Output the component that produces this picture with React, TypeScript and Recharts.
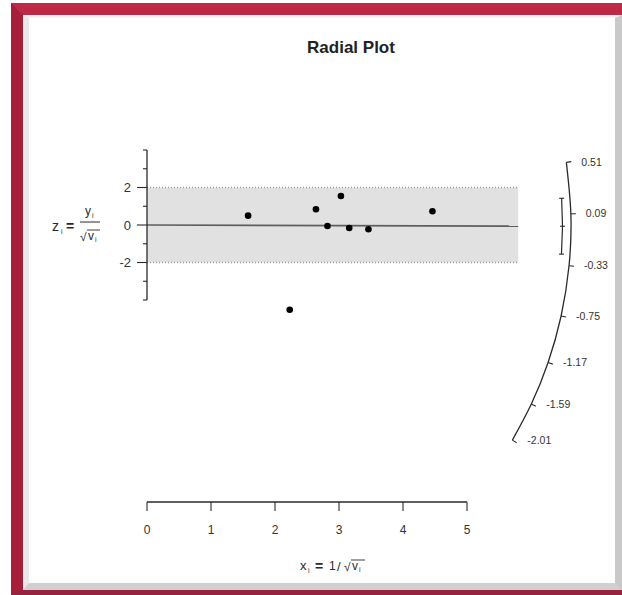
import React from 'react'
import {
  ComposedChart,
  Line,
  ReferenceArea,
  ReferenceLine,
  Scatter,
  XAxis,
  YAxis,
} from 'recharts'

// study values
const STUDY_X = [1.58, 2.64, 3.03, 2.82, 3.16, 3.46, 4.46, 2.23]
const STUDY_Z = [0.5, 0.84, 1.55, -0.05, -0.16, -0.23, 0.73, -4.52]

// radial scale on the right
const ARC_TICKS = [0.51, 0.09, -0.33, -0.75, -1.17, -1.59, -2.01]
const ESTIMATE = -0.01
const CI_LOWER = -0.24
const CI_UPPER = 0.22

const X_TICKS = [0, 1, 2, 3, 4, 5]
const Z_MAJOR = [-2, 0, 2]
const Z_MINOR = [-4, -3, -1, 1, 3, 4]
const BAND_END = 5.8

const W = 622
const H = 595
const MARGIN = { top: 37.5, right: 27, bottom: 53, left: 107 }
const Y_AXIS_W = 40
const X_AXIS_H = 40
const X_DOMAIN: [number, number] = [0, 7]
const Z_DOMAIN: [number, number] = [-14.7733, 10]

const plotW = W - MARGIN.left - Y_AXIS_W - MARGIN.right
const plotH = H - MARGIN.top - MARGIN.bottom - X_AXIS_H
const kx = plotW / (X_DOMAIN[1] - X_DOMAIN[0])
const kz = plotH / (Z_DOMAIN[1] - Z_DOMAIN[0])

const ARC_RADIUS = 424
const CI_RADIUS = 415.5
const MINOR_TICK = 4 / kx

const FONT = '"Liberation Sans", Arial, sans-serif'
const INK = '#2a2a2a'

// point on the line z = t * x that lies r pixels from the origin
function arcPoint(t: number, r: number) {
  const L = Math.hypot(kx, kz * t)
  return { x: r / L, z: (t * r) / L, t }
}

const studies = STUDY_X.map((x, i) => ({ x, z: STUDY_Z[i] }))
const arcData = ARC_TICKS.map((t) => arcPoint(t, ARC_RADIUS))
const ciData = [CI_UPPER, ESTIMATE, CI_LOWER].map((t) => arcPoint(t, CI_RADIUS))

function ArcTick(props: any) {
  const { cx, cy, payload } = props
  const L = Math.hypot(kx, kz * payload.t)
  const ux = kx / L
  const uy = (-kz * payload.t) / L
  return (
    <g>
      <line x1={cx} y1={cy} x2={cx + ux * 5} y2={cy + uy * 5} stroke={INK} strokeWidth={1.1} />
      <text x={cx + 15} y={cy} dy="0.35em" fontSize={10.5} fill="#333" fontFamily={FONT}>
        {payload.t.toFixed(2)}
      </text>
    </g>
  )
}

function CiCap(props: any) {
  const { cx, cy, index } = props
  return <line key={index} x1={cx - 2.5} y1={cy} x2={cx + 2.5} y2={cy} stroke={INK} strokeWidth={1.1} />
}

function StudyDot(props: any) {
  const { cx, cy } = props
  return <circle cx={cx} cy={cy} r={3.3} fill="#000" />
}

function Frame() {
  return (
    <div
      style={{
        position: 'absolute',
        left: 11,
        top: 3,
        width: W - 11,
        height: H - 3,
        boxSizing: 'border-box',
        borderLeft: '12px solid #a51f3b',
        borderTop: '12px solid #bd2946',
        borderBottom: '5px solid #962440',
        boxShadow: 'inset 0 -1px 0 #d25a72',
      }}
    >
      <div
        style={{
          position: 'absolute',
          inset: 0,
          boxSizing: 'border-box',
          background: '#fff',
          borderLeft: '6px solid #e8e8e8',
          borderTop: '3px solid #f3f3f3',
          borderRight: '7px solid #c9c9c9',
          borderBottom: '7px solid #d0d0d0',
        }}
      />
    </div>
  )
}

function Labels() {
  return (
    <svg width={W} height={H} style={{ position: 'absolute', left: 0, top: 0 }} fontFamily={FONT} fill={INK}>
      <text x={351} y={53} fontSize={17} fontWeight="bold" textAnchor="middle" fill="#222">
        Radial Plot
      </text>

      {/* z_i = y_i / sqrt(v_i) */}
      <text x={52} y={231} fontSize={14}>z</text>
      <text x={61} y={234} fontSize={7}>i</text>
      <text x={66} y={231} fontSize={14} fontWeight="bold">=</text>
      <text x={85} y={215} fontSize={12}>y</text>
      <text x={92} y={218} fontSize={7}>i</text>
      <line x1={80} y1={222} x2={100} y2={222} stroke={INK} strokeWidth={1} />
      <text x={80} y={241} fontSize={12}>√</text>
      <line x1={87} y1={230} x2={100} y2={230} stroke={INK} strokeWidth={0.9} />
      <text x={88} y={240} fontSize={12}>v</text>
      <text x={95} y={242} fontSize={7}>i</text>

      {/* x_i = 1 / sqrt(v_i) */}
      <text x={300} y={570} fontSize={13}>x</text>
      <text x={308} y={573} fontSize={7}>i</text>
      <text x={315} y={571} fontSize={14} fontWeight="bold">=</text>
      <text x={329} y={570} fontSize={12}>1</text>
      <text x={337} y={571} fontSize={13}>/</text>
      <text x={344} y={571} fontSize={12}>√</text>
      <line x1={351} y1={560} x2={365} y2={560} stroke={INK} strokeWidth={0.9} />
      <text x={352} y={570} fontSize={12}>v</text>
      <text x={359} y={572} fontSize={7}>i</text>
    </svg>
  )
}

export default function App() {
  const tickStyle = { fill: '#333', fontSize: 12, fontFamily: FONT }
  return (
    <div style={{ position: 'absolute', left: 0, top: 0, width: W, height: H, background: '#fff' }}>
      <Frame />
      <div style={{ position: 'absolute', left: 0, top: 0 }}>
        <ComposedChart width={W} height={H} margin={MARGIN}>
          <XAxis
            type="number"
            dataKey="x"
            scale="linear"
            domain={X_DOMAIN}
            ticks={X_TICKS}
            interval={0}
            height={X_AXIS_H}
            axisLine={false}
            tickLine={{ stroke: INK, strokeWidth: 1.1 }}
            tickSize={9}
            tickMargin={14}
            tick={tickStyle}
          />
          <YAxis
            type="number"
            dataKey="z"
            scale="linear"
            domain={Z_DOMAIN}
            ticks={Z_MAJOR}
            interval={0}
            width={Y_AXIS_W}
            axisLine={false}
            tickLine={{ stroke: INK, strokeWidth: 1.1 }}
            tickSize={10}
            tickMargin={6}
            tick={{ ...tickStyle, fontSize: 13 }}
          />

          <ReferenceArea x1={0} x2={BAND_END} y1={-2} y2={2} fill="#e1e1e1" fillOpacity={1} stroke="none" />
          <ReferenceLine
            segment={[{ x: 0, y: 2 }, { x: BAND_END, y: 2 }]}
            stroke="#9c9c9c"
            strokeWidth={1.3}
            strokeDasharray="1 2"
          />
          <ReferenceLine
            segment={[{ x: 0, y: -2 }, { x: BAND_END, y: -2 }]}
            stroke="#9c9c9c"
            strokeWidth={1.3}
            strokeDasharray="1 2"
          />
          <ReferenceLine
            segment={[{ x: 0, y: 0 }, { x: BAND_END, y: BAND_END * ESTIMATE }]}
            stroke="#5e5e5e"
            strokeWidth={1.7}
          />
          <ReferenceLine segment={[{ x: 0, y: -4 }, { x: 0, y: 4 }]} stroke={INK} strokeWidth={1.3} />
          {Z_MINOR.map((v) => (
            <ReferenceLine
              key={v}
              segment={[{ x: -MINOR_TICK, y: v }, { x: 0, y: v }]}
              ifOverflow="visible"
              stroke={INK}
              strokeWidth={1.1}
            />
          ))}
          <ReferenceLine
            segment={[{ x: 0, y: Z_DOMAIN[0] }, { x: 5, y: Z_DOMAIN[0] }]}
            stroke={INK}
            strokeWidth={1.3}
          />

          <Line
            data={arcData}
            dataKey="z"
            type="natural"
            stroke={INK}
            strokeWidth={1.3}
            dot={false}
            activeDot={false}
            legendType="none"
            isAnimationActive={false}
          />
          <Scatter data={arcData} dataKey="z" shape={<ArcTick />} legendType="none" isAnimationActive={false} />
          <Line
            data={ciData}
            dataKey="z"
            type="linear"
            stroke={INK}
            strokeWidth={1.2}
            dot={<CiCap />}
            activeDot={false}
            legendType="none"
            isAnimationActive={false}
          />
          <Scatter data={studies} dataKey="z" shape={<StudyDot />} legendType="none" isAnimationActive={false} />
        </ComposedChart>
      </div>
      <Labels />
    </div>
  )
}
